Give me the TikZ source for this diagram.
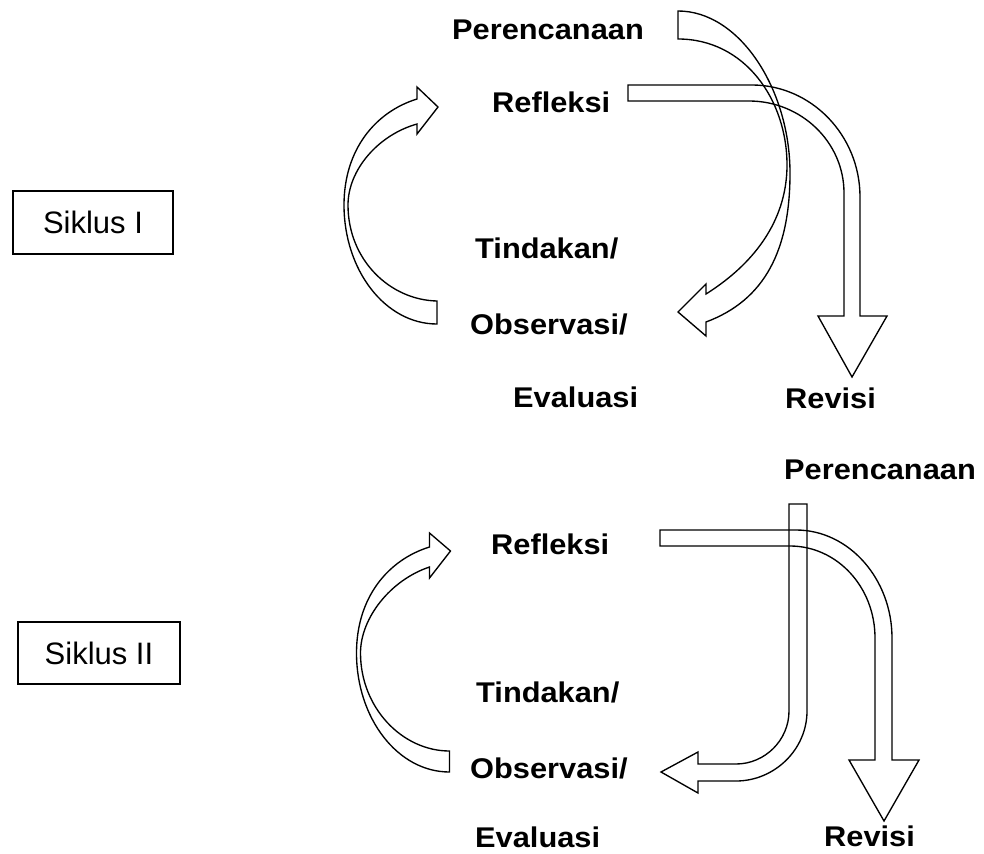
\documentclass[tikz,border=0pt]{standalone}
\usepackage{fontspec}
\usepackage{graphicx}
\setmainfont{Liberation Sans}
\newcommand{\StretchX}[1]{\scalebox{1.08}[1]{#1}}
\begin{document}
\begin{tikzpicture}[x=1pt,y=-1pt,
  lbl/.style={anchor=base west, inner sep=0pt, font=\fontsize{28.5}{30}\selectfont\bfseries},
  cyclebox/.style={draw, line width=1.4pt, inner sep=0pt, font=\fontsize{31}{33}\selectfont},
  blockarrow/.style={draw, line width=1.35pt, line join=miter}]
\useasboundingbox (0,0) rectangle (984,853);

% ---------- Cycle boxes ----------
\node[cyclebox, minimum width=160pt, minimum height=63pt] (s1) at (93,222.5) {Siklus I};
\node[cyclebox, minimum width=162pt, minimum height=62pt] (s2) at (99,653) {Siklus II};

% ---------- Labels, cycle I ----------
\node[lbl] (p1) at (452,40) {\StretchX{Perencanaan}};
\node[lbl] (r1) at (492,113) {\StretchX{Refleksi}};
\node[lbl] (t1) at (475,258) {\StretchX{Tindakan/}};
\node[lbl] (o1) at (470,334) {\StretchX{Observasi/}};
\node[lbl] (e1) at (513,407) {\StretchX{Evaluasi}};
\node[lbl] (v1) at (785,408) {\StretchX{Revisi}};

% ---------- Labels, cycle II ----------
\node[lbl] (p2) at (784,479) {\StretchX{Perencanaan}};
\node[lbl] (r2) at (491,554) {\StretchX{Refleksi}};
\node[lbl] (t2) at (476,702) {\StretchX{Tindakan/}};
\node[lbl] (o2) at (470,778) {\StretchX{Observasi/}};
\node[lbl] (e2) at (475,847) {\StretchX{Evaluasi}};
\node[lbl] (v2) at (824,846) {\StretchX{Revisi}};

% ---------- Left curved arrows (Observasi -> Refleksi) ----------
\draw[blockarrow] (437,324) .. controls (385,324) and (344,270) .. (344,205)
  .. controls (344,150) and (375,112) .. (417,99) -- (417,87) -- (438,107) -- (417,134) -- (417,124)
  .. controls (378,135) and (348,170) .. (348,205)
  .. controls (348,260) and (390,300) .. (437,301) -- cycle;
\begin{scope}[shift={(12.5,448)}]
\draw[blockarrow] (437,324) .. controls (385,324) and (344,270) .. (344,205)
  .. controls (344,150) and (375,112) .. (417,99) -- (417,85) -- (438,103) -- (417,130) -- (417,119)
  .. controls (378,132) and (348,170) .. (348,205)
  .. controls (348,260) and (390,303) .. (437,303) -- cycle;
\end{scope}

% ---------- Cycle I: Perencanaan -> Observasi ----------
\draw[blockarrow] (678,11) .. controls (740,11) and (790,90) .. (790,173)
  .. controls (790,250) and (765,300) .. (706,322) -- (706,336) -- (678,312) -- (706,284) -- (706,294)
  .. controls (760,260) and (787,215) .. (787,165)
  .. controls (787,100) and (745,39) .. (678,39) -- cycle;

% ---------- Cycle I: Refleksi -> Revisi ----------
\draw[blockarrow] (628,85) -- (752,85) .. controls (811,85) and (860,135) .. (860,197)
  -- (860,316) -- (887,316) -- (852,377) -- (818,316) -- (844,316) -- (844,193)
  .. controls (844,142) and (801,101) .. (749,101) -- (628,101) -- cycle;

% ---------- Cycle II: Perencanaan -> Observasi ----------
\draw[blockarrow] (789,504) -- (807,504) -- (807,711) .. controls (807,749.5) and (774.5,781) .. (736,781)
  -- (698,781) -- (698,793) -- (661,772) -- (698,752) -- (698,764) -- (736,764)
  .. controls (765,764) and (789,740) .. (789,711) -- cycle;

% ---------- Cycle II: Refleksi -> Revisi ----------
\draw[blockarrow] (660,530) -- (796,530) .. controls (849,530) and (892,579) .. (892,638)
  -- (892,760) -- (919,760) -- (884,821) -- (849,760) -- (875,760) -- (875,638)
  .. controls (875,587) and (837,546) .. (790,546) -- (660,546) -- cycle;
\end{tikzpicture}
\end{document}
